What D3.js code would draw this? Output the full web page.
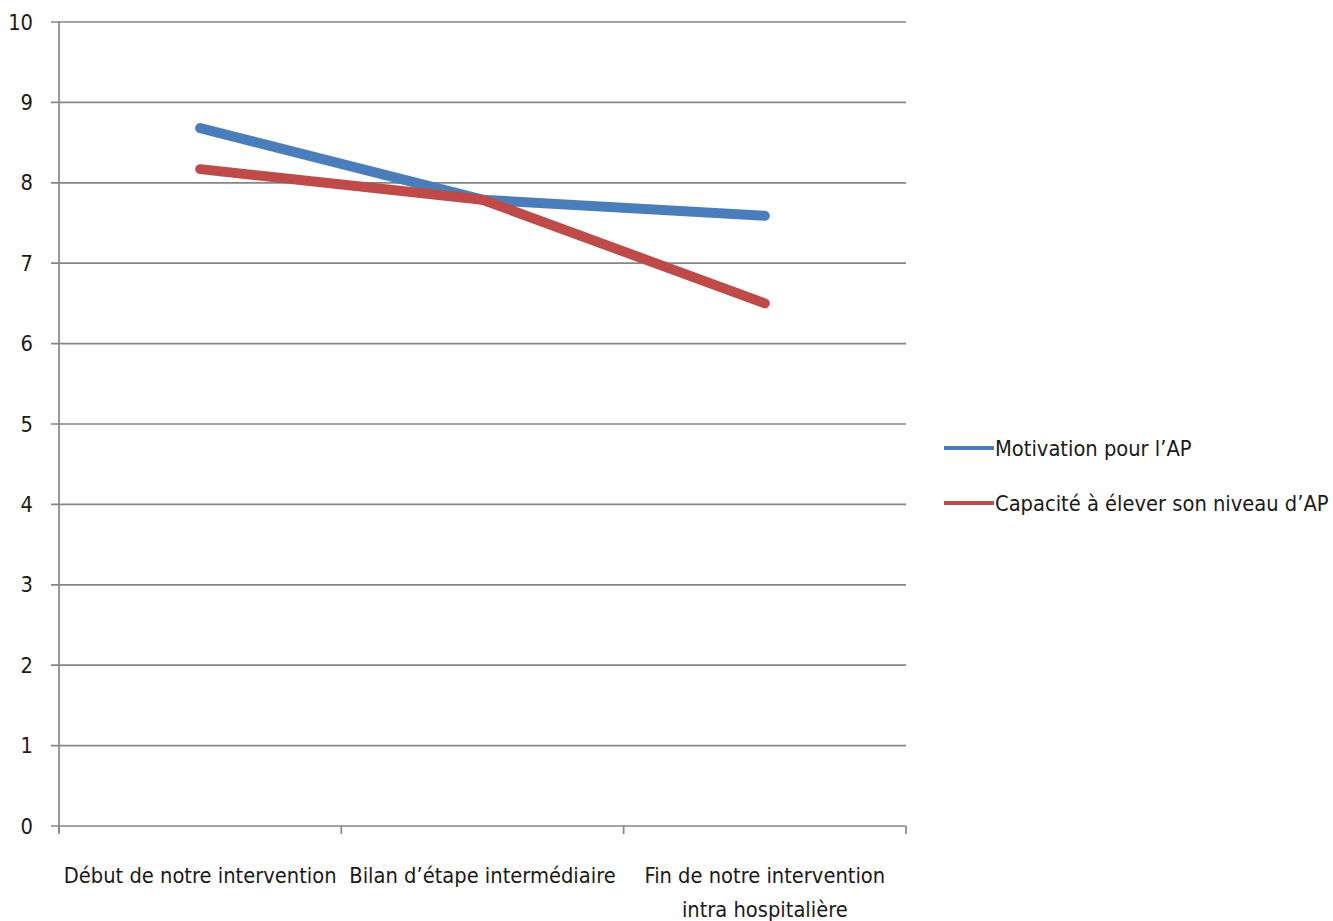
<!DOCTYPE html>
<html>
<head>
<meta charset="utf-8">
<script src="https://cdn.jsdelivr.net/npm/d3@7"></script>
<style>
  body { margin: 0; background: #fff; }
  text { font-family: "Liberation Sans Narrow", "DejaVu Sans Condensed", "Open Sans", sans-serif; fill: #1a1a1a; }
</style>
</head>
<body>
<script>
var categories = ["Début de notre intervention", "Bilan d’étape intermédiaire", "Fin de notre intervention|intra hospitalière"];
var seriesNames = ["Motivation pour l’AP", "Capacité à élever son niveau d’AP"];
var motivation = [8.68, 7.79, 7.59];
var capacite = [8.17, 7.79, 6.5];
var yTicks = [0, 1, 2, 3, 4, 5, 6, 7, 8, 9, 10];
var colors = ["#4A7EBB", "#BE4B48"];

var W = 1333, H = 921;
var plotLeft = 59, plotRight = 906, plotTop = 22, plotBottom = 826;
var fontSize = "21.7px";

var svg = d3.select("body").append("svg")
    .attr("width", W)
    .attr("height", H);

var x = d3.scaleBand().domain(categories).range([plotLeft, plotRight]).padding(0);
var y = d3.scaleLinear().domain([0, 10]).range([plotBottom, plotTop]);

// gridlines
svg.append("g")
  .selectAll("line")
  .data(yTicks)
  .enter().append("line")
    .attr("x1", plotLeft - 8)
    .attr("x2", plotRight)
    .attr("y1", function(d) { return y(d); })
    .attr("y2", function(d) { return y(d); })
    .attr("stroke", "#868686")
    .attr("stroke-width", 1.7);

// y axis line
svg.append("line")
    .attr("x1", plotLeft).attr("x2", plotLeft)
    .attr("y1", plotTop).attr("y2", plotBottom + 6)
    .attr("stroke", "#868686")
    .attr("stroke-width", 1.7);

// x ticks at band edges
var edges = categories.map(function(c) { return x(c); }).concat([plotRight]);
svg.append("g")
  .selectAll("line")
  .data(edges)
  .enter().append("line")
    .attr("x1", function(d) { return d; })
    .attr("x2", function(d) { return d; })
    .attr("y1", plotBottom)
    .attr("y2", plotBottom + 8)
    .attr("stroke", "#868686")
    .attr("stroke-width", 1.7);

// y labels
svg.append("g")
  .selectAll("text")
  .data(yTicks)
  .enter().append("text")
    .attr("x", 33)
    .attr("y", function(d) { return y(d); })
    .attr("dy", "0.35em")
    .attr("text-anchor", "end")
    .style("font-size", fontSize)
    .text(function(d) { return d; });

// x labels
var xl = svg.append("g")
  .selectAll("text")
  .data(categories)
  .enter().append("text")
    .attr("x", function(d) { return x(d) + x.bandwidth() / 2; })
    .attr("y", 883)
    .attr("text-anchor", "middle")
    .style("font-size", fontSize);
xl.each(function(d) {
  var parts = d.split("|");
  var t = d3.select(this);
  parts.forEach(function(p, i) {
    t.append("tspan")
      .attr("x", x(d) + x.bandwidth() / 2)
      .attr("dy", i === 0 ? 0 : 34)
      .text(p);
  });
});

// lines
var line = d3.line()
    .x(function(d, i) { return x(categories[i]) + x.bandwidth() / 2; })
    .y(function(d) { return y(d); });

[motivation, capacite].forEach(function(s, i) {
  svg.append("path")
      .datum(s)
      .attr("fill", "none")
      .attr("stroke", colors[i])
      .attr("stroke-width", 10)
      .attr("stroke-linecap", "round")
      .attr("stroke-linejoin", "round")
      .attr("d", line);
});

// legend
var leg = svg.append("g")
  .selectAll("g")
  .data(seriesNames)
  .enter().append("g")
    .attr("transform", function(d, i) { return "translate(944," + (448 + i * 55) + ")"; });
leg.append("line")
    .attr("x1", 0).attr("x2", 50)
    .attr("stroke", function(d, i) { return colors[i]; })
    .attr("stroke-width", 4);
leg.append("text")
    .attr("x", 51)
    .attr("dy", "0.35em")
    .style("font-size", fontSize)
    .text(function(d) { return d; });
</script>
</body>
</html>
